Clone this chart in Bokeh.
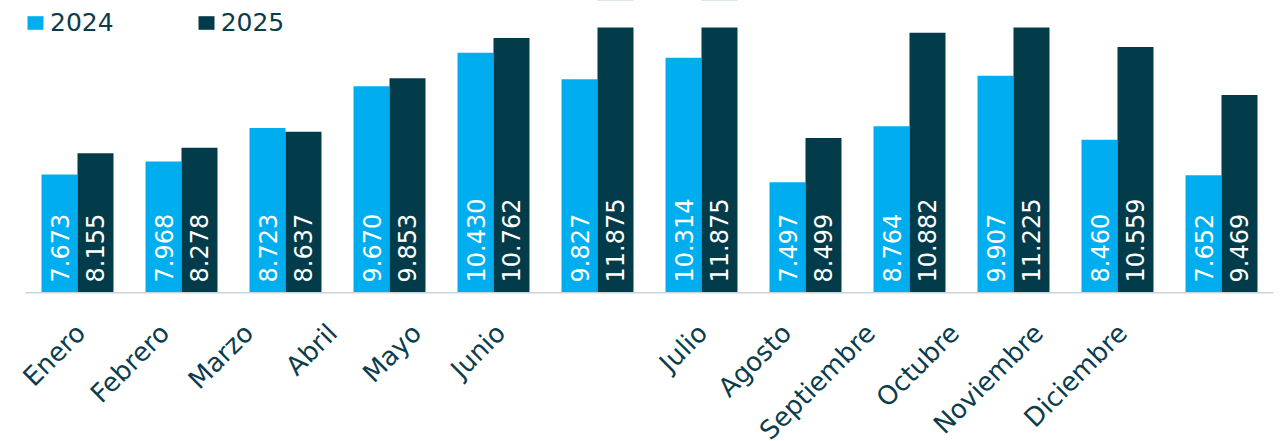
from math import pi
from bokeh.plotting import figure
from bokeh.layouts import column
from bokeh.models import (ColumnDataSource, Range1d, FactorRange, Legend, LegendItem,
                          BoxAnnotation, LinearAxis, FixedTicker)
from bokeh.transform import dodge
from bokeh.core.properties import value
from bokeh.embed import file_html
from bokeh.resources import INLINE

months = ["Enero", "Febrero", "Marzo", "Abril", "Mayo", "Junio", "Julio",
          "Agosto", "Septiembre", "Octubre", "Noviembre", "Diciembre"]
v2024 = [7.673, 7.968, 8.723, 9.670, 10.430, 9.827, 10.314, 7.497, 8.764, 9.907, 8.460, 7.652]
v2025 = [8.155, 8.278, 8.637, 9.853, 10.762, 11.875, 11.875, 8.499, 10.882, 11.225, 10.559, 9.469]
series = ["2024", "2025"]

Y_MIN, Y_CAP = 5.0, 11.0          # value axis shown from 5 to 11 (bars cut at 11)

C24 = "#00AEEF"
C25 = "#023B4A"
TXT = "#0B3C4C"
FONT = "DejaVu Sans"

src = ColumnDataSource(dict(
    month=months, v2024=v2024, v2025=v2025,
    l2024=[f"{v:.3f}" for v in v2024],
    l2025=[f"{v:.3f}" for v in v2025],
    base=[Y_MIN] * len(months),
))

p = figure(width=1278, height=292, x_range=FactorRange(*months, range_padding=0),
           y_range=Range1d(Y_MIN, Y_CAP + 0.611), output_backend="svg", toolbar_location=None,
           min_border_left=25, min_border_right=5, min_border_top=0, min_border_bottom=0)

r1 = p.vbar(x=dodge("month", -0.173, range=p.x_range), top="v2024", width=0.346,
            source=src, fill_color=C24, line_color=None)
r2 = p.vbar(x=dodge("month", 0.173, range=p.x_range), top="v2025", width=0.346,
            source=src, fill_color=C25, line_color=None)

p.text(x=dodge("month", -0.173, range=p.x_range), y="base", text="l2024", source=src,
       angle=pi / 2, text_align="left", text_baseline="middle", y_offset=-10,
       text_color="white", text_font=value(FONT), text_font_size="24px")
p.text(x=dodge("month", 0.173, range=p.x_range), y="base", text="l2025", source=src,
       angle=pi / 2, text_align="left", text_baseline="middle", y_offset=-10,
       text_color="white", text_font=value(FONT), text_font_size="24px")

# axis cap: hide what lies above the top of the value axis
p.add_layout(BoxAnnotation(bottom=Y_CAP, top=Y_CAP + 2, fill_color="white", fill_alpha=1,
                           line_color=None))

p.yaxis.visible = False
p.xaxis.visible = False
p.xgrid.grid_line_color = None
p.ygrid.grid_line_color = None
p.outline_line_color = None
p.background_fill_color = "white"
p.border_fill_color = "white"

legend = Legend(items=[LegendItem(label=series[0], renderers=[r1]),
                       LegendItem(label=series[1], renderers=[r2])],
                orientation="horizontal", location=(0, 255),
                glyph_width=20, glyph_height=17, label_standoff=5, spacing=82,
                padding=0, margin=0, border_line_color=None, background_fill_alpha=0,
                label_text_font=FONT, label_text_font_size="25px", label_text_color=TXT)
p.add_layout(legend, "center")

# month labels: axis strip under the bars (labels placed as in the reference)
GAP = 1405
lab_ticks = [i * 1000 + (GAP if i >= 6 else 0) for i in range(len(months))]
q = figure(width=1278, height=149, x_range=Range1d(-655, 14202), y_range=Range1d(0, 1),
           x_axis_type=None, y_axis_type=None, output_backend="svg", toolbar_location=None,
           min_border_left=25, min_border_right=5, min_border_top=0, min_border_bottom=148)
q.outline_line_color = None
q.xgrid.grid_line_color = None
q.ygrid.grid_line_color = None
q.border_fill_color = "white"
q.background_fill_color = "white"
xa = LinearAxis(ticker=FixedTicker(ticks=lab_ticks),
                major_label_overrides={t: m for t, m in zip(lab_ticks, months)})
xa.axis_line_color = "#C9D5DB"
xa.axis_line_width = 2
xa.major_tick_line_color = None
xa.minor_tick_line_color = None
xa.major_label_orientation = pi / 4
xa.major_label_standoff = 30
xa.major_label_text_font = FONT
xa.major_label_text_font_size = "26px"
xa.major_label_text_color = TXT
q.add_layout(xa, "below")

open("out.html", "w").write(file_html(column(p, q, spacing=0), INLINE))
